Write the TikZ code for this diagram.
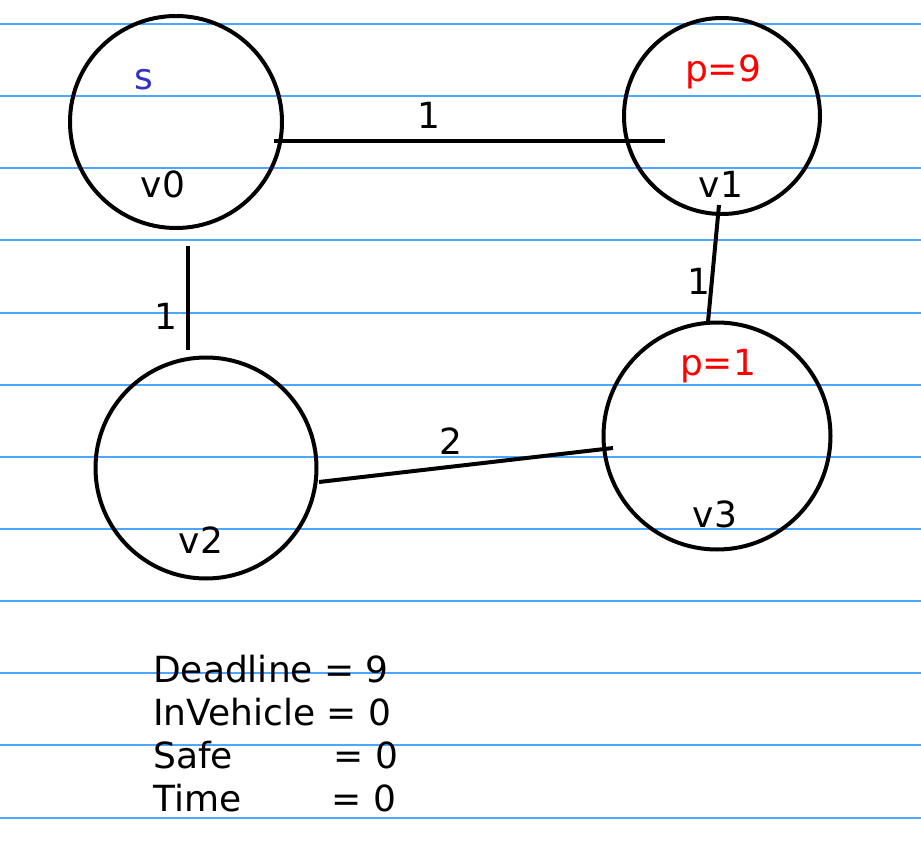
\documentclass[tikz,border=0pt]{standalone}
\usepackage{fontspec}
\setmainfont{DejaVu Sans}
\usepackage{tikz}
\usetikzlibrary{positioning}
\definecolor{ruleblue}{RGB}{77,166,255}
\definecolor{srcblue}{RGB}{50,50,200}
\definecolor{prizered}{RGB}{255,0,0}

\begin{document}
\begin{tikzpicture}
	[x=1pt,y=-1pt,
	 every node/.style={font=\fontsize{36}{43}\selectfont},
	 vertex/.style={draw,circle,line width=4pt,inner sep=0pt},
	 lbl/.style={anchor=base,inner sep=0pt},
	 edge/.style={line width=4pt}]
	\useasboundingbox (0,0) rectangle (921,853);
	% ruled lines
	\foreach \y in {24,96,168,240,313,385,457,529,601,673,745,818}
	  \draw[ruleblue,line width=1.5pt] (0,\y) -- (921,\y);
	% vertices
	\node (v0) [vertex,minimum size=212pt] at (176,122) {};
	\node (v1) [vertex,minimum size=196pt] at (722,116) {};
	\node (v2) [vertex,minimum size=221pt] at (206,468) {};
	\node (v3) [vertex,minimum size=227pt] at (717,436) {};
	% labels inside
	\node (s)  [lbl,text=srcblue] at (144,90) {s};
	\node (n0) [lbl] at (163,198) {v0};
	\node (p9) [lbl,text=prizered] at (723,82) {p=9};
	\node (n1) [lbl] at (721,198) {v1};
	\node (n2) [lbl] at (201,553) {v2};
	\node (p1) [lbl,text=prizered] at (718,375) {p=1};
	\node (n3) [lbl] at (715,527) {v3};
	% edge ends
	\coordinate (a0) at (274,141);
	\coordinate (a1) at (665,141);
	\coordinate (b0) at (188,246);
	\coordinate (b2) at (188,350);
	\coordinate (c1) at (719,205);
	\coordinate (c3) at (708,322);
	\coordinate (d2) at (319,482);
	\coordinate (d3) at (613,448);
	\draw[edge] (a0) -- (a1);
	\draw[edge] (b0) -- (b2);
	\draw[edge] (c1) -- (c3);
	\draw[edge] (d2) -- (d3);
	% weights
	\node (w01) [lbl] at (429,129) {1};
	\node (w02) [lbl] at (166,329) {1};
	\node (w13) [lbl] at (699,294) {1};
	\node (w23) [lbl] at (451,454) {2};
	% state
	\node (dl) [anchor=base west,inner sep=0pt] at (153,682) {Deadline = 9};
	\node (iv) [anchor=base west,inner sep=0pt] at (153,725) {InVehicle = 0};
	\node (sf) [anchor=base west,inner sep=0pt] at (153,768) {\makebox[169pt][l]{Safe} = 0};
	\node (tm) [anchor=base west,inner sep=0pt] at (153,811) {\makebox[167pt][l]{Time} = 0};
\end{tikzpicture}
\end{document}
